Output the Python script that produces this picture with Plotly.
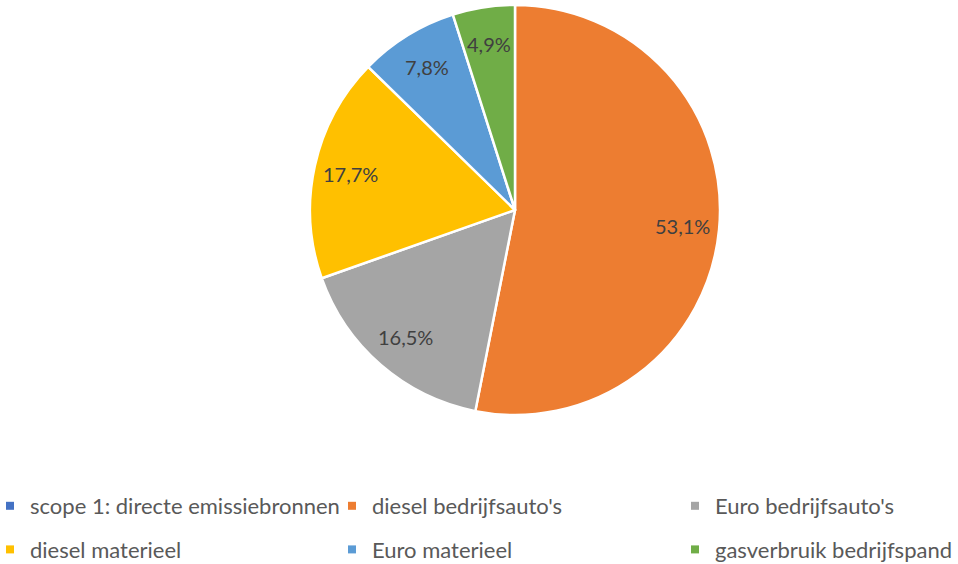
import math
import plotly.graph_objects as go

categories = [
    "scope 1: directe emissiebronnen",
    "diesel bedrijfsauto's",
    "Euro bedrijfsauto's",
    "diesel materieel",
    "Euro materieel",
    "gasverbruik bedrijfspand",
]
values = [0.0, 53.1, 16.5, 17.7, 7.8, 4.9]
colors = ["#4472C4", "#ED7D31", "#A5A5A5", "#FFC000", "#5B9BD5", "#70AD47"]

W, H = 958, 564
FONT = "Lato, Liberation Sans, Arial, sans-serif"

# pie placement (pixels)
PIE_L, PIE_R, PIE_T, PIE_B = 310, 720, 5, 415
dom_x = [PIE_L / W, PIE_R / W]
dom_y = [(H - PIE_B) / H, (H - PIE_T) / H]

fig = go.Figure()
fig.add_trace(go.Pie(
    labels=categories,
    values=values,
    sort=False,
    direction="clockwise",
    rotation=0,
    marker=dict(colors=colors, line=dict(color="white", width=2.5)),
    textinfo="none",
    domain=dict(x=dom_x, y=dom_y),
    showlegend=False,
    hoverinfo="label+percent",
))

# data labels placed at the middle angle of each slice (best-fit style)
total = sum(values)
cx = (PIE_L + PIE_R) / 2
cy = (PIE_T + PIE_B) / 2
R = min(PIE_R - PIE_L, PIE_B - PIE_T) / 2
cum = 0.0
for name, v in zip(categories, values):
    start = cum
    cum += v
    if v <= 0:
        continue
    mid = (start + cum) / 2 / total * 2 * math.pi
    px = cx + 0.82 * R * math.sin(mid)
    py = cy - 0.82 * R * math.cos(mid)
    pct = f"{v / total * 100:.1f}".replace(".", ",") + "%"
    fig.add_annotation(
        x=px / W, y=1 - py / H, xref="paper", yref="paper",
        text=pct, showarrow=False, xanchor="center", yanchor="middle",
        font=dict(family=FONT, size=20, color="#404040"),
    )

# legend entries: three columns, two rows
leg_names = ["legend", "legend2", "legend3"]
for i, (name, col) in enumerate(zip(categories, colors)):
    fig.add_trace(go.Scatter(
        x=[None], y=[None], mode="markers", name=name,
        marker=dict(symbol="square", size=8, color=col),
        legend=leg_names[i % 3], legendgroup=f"g{i}",
        showlegend=True,
    ))

leg_common = dict(
    orientation="v", xanchor="left", yanchor="top",
    tracegroupgap=12,
    font=dict(family=FONT, size=22, color="#595959"),
    bgcolor="rgba(0,0,0,0)", traceorder="grouped",
)
col_x = [-10, 332, 675]
leg_y = 1 - 485 / H

fig.update_layout(
    width=W, height=H,
    margin=dict(l=0, r=0, t=0, b=0, autoexpand=False),
    paper_bgcolor="white", plot_bgcolor="white",
    xaxis=dict(visible=False), yaxis=dict(visible=False),
    legend=dict(x=col_x[0] / W, y=leg_y, **leg_common),
    legend2=dict(x=col_x[1] / W, y=leg_y, **leg_common),
    legend3=dict(x=col_x[2] / W, y=leg_y, **leg_common),
)

fig.write_html(
    "out.html",
    config={"displayModeBar": False},
    post_script="document.body.style.margin='0';document.body.style.overflow='hidden';",
)
